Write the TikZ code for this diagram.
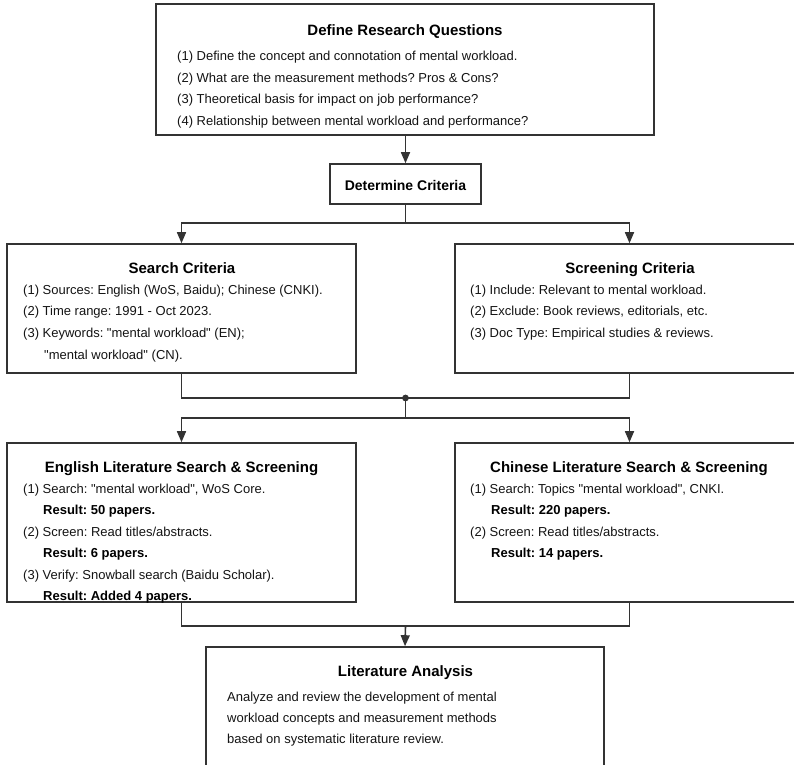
\documentclass[tikz,border=0pt]{standalone}
\usepackage{fontspec}
\setmainfont{Liberation Sans}[Ligatures=TeXOff]
\usetikzlibrary{arrows.meta}
\definecolor{ln}{RGB}{51,51,51}
\definecolor{tx}{RGB}{20,20,20}
\frenchspacing
\begin{document}
\begin{tikzpicture}[x=1pt,y=-1pt,
 box/.style={draw=ln,line width=1.6pt,rectangle,inner sep=0pt,fill=white},
 ttl/.style={anchor=base,inner sep=0pt,font=\fontsize{15}{18}\selectfont\bfseries,text=black},
 txt/.style={anchor=base west,inner sep=0pt,font=\fontsize{13}{16}\selectfont,text=tx},
 res/.style={anchor=base west,inner sep=0pt,font=\fontsize{13}{16}\selectfont\bfseries,text=black},
 conn/.style={draw=ln,line width=1.6pt},
 arr/.style={conn,-{Triangle[length=11pt,width=9pt]}},
]
\useasboundingbox (0,0) rectangle (794,764);
\clip (0,0) rectangle (794,764);

% boxes
\node[box,minimum width=498pt,minimum height=131pt] (rq) at (405,69.5) {};
\node[box,minimum width=151pt,minimum height=40pt] (dc) at (405.5,184) {};
\node[box,minimum width=349pt,minimum height=129pt] (sc) at (181.5,308.5) {};
\node[box,minimum width=349pt,minimum height=129pt] (scr) at (629.5,308.5) {};
\node[box,minimum width=349pt,minimum height=159pt] (en) at (181.5,522.5) {};
\node[box,minimum width=349pt,minimum height=159pt] (cn) at (629.5,522.5) {};
\node[box,minimum width=398pt,minimum height=140pt] (la) at (405,717) {};

% texts: research questions
\node[ttl] (rqt) at (405,35.5) {Define Research Questions};
\node[txt] (rq1) at (177,60.5) {(1) Define the concept and connotation of mental workload.};
\node[txt] (rq2) at (177,82) {(2) What are the measurement methods? Pros \& Cons?};
\node[txt] (rq3) at (177,103.5) {(3) Theoretical basis for impact on job performance?};
\node[txt] (rq4) at (177,125.5) {(4) Relationship between mental workload and performance?};

\node[anchor=base,inner sep=0pt,font=\fontsize{14}{16}\selectfont\bfseries] (dct) at (405.5,190) {Determine Criteria};

% search criteria
\node[ttl] (sct) at (182,273.5) {Search Criteria};
\node[txt] (sc1) at (23,294) {(1) Sources: English (WoS, Baidu); Chinese (CNKI).};
\node[txt] (sc2) at (23,315.5) {(2) Time range: 1991 - Oct 2023.};
\node[txt] (sc3) at (23,337) {(3) Keywords: "mental workload" (EN);};
\node[txt] (sc4) at (44,359.5) {"mental workload" (CN).};

% screening criteria
\node[ttl] (scrt) at (630,273.5) {Screening Criteria};
\node[txt] (scr1) at (470,294) {(1) Include: Relevant to mental workload.};
\node[txt] (scr2) at (470,315.5) {(2) Exclude: Book reviews, editorials, etc.};
\node[txt] (scr3) at (470,337.5) {(3) Doc Type: Empirical studies \& reviews.};

% english
\node[ttl] (ent) at (181.5,472) {English Literature Search \& Screening};
\node[txt] (en1) at (23,493.5) {(1) Search: "mental workload", WoS Core.};
\node[res] (en2) at (43,514) {Result: 50 papers.};
\node[txt] (en3) at (23,536.5) {(2) Screen: Read titles/abstracts.};
\node[res] (en4) at (43,557) {Result: 6 papers.};
\node[txt] (en5) at (23,579.5) {(3) Verify: Snowball search (Baidu Scholar).};
\node[res] (en6) at (43,600) {Result: Added 4 papers.};

% chinese
\node[ttl] (cnt) at (629,472) {Chinese Literature Search \& Screening};
\node[txt] (cn1) at (470,493.5) {(1) Search: Topics "mental workload", CNKI.};
\node[res] (cn2) at (491,514) {Result: 220 papers.};
\node[txt] (cn3) at (470,536.5) {(2) Screen: Read titles/abstracts.};
\node[res] (cn4) at (491,557) {Result: 14 papers.};

% literature analysis
\node[ttl] (lat) at (405.5,676.5) {Literature Analysis};
\node[txt] (la1) at (227,701.5) {Analyze and review the development of mental};
\node[txt] (la2) at (227,722.5) {workload concepts and measurement methods};
\node[txt] (la3) at (227,743.5) {based on systematic literature review.};

% connectors
\coordinate (j1) at (405.5,223);
\coordinate (j2) at (405.5,398);
\coordinate (j3) at (405.5,418);
\coordinate (j4) at (405.5,626);
\draw[arr] (rq.south -| dc.north) -- (dc.north);
\draw[conn] (dc.south) -- (j1);
\draw[arr] (j1) -| (sc.north);
\draw[arr] (j1) -| (scr.north);
\draw[conn] (sc.south) |- (j2);
\draw[conn] (scr.south) |- (j2);
\draw[conn] (j2) -- (j3);
\draw[arr] (j3) -| (en.north);
\draw[arr] (j3) -| (cn.north);
\fill[ln] (j2) circle (3.4pt);
\draw[conn] (en.south) |- (j4) -| (cn.south);
\draw[arr] (j4) -- (la.north);
\end{tikzpicture}
\end{document}
